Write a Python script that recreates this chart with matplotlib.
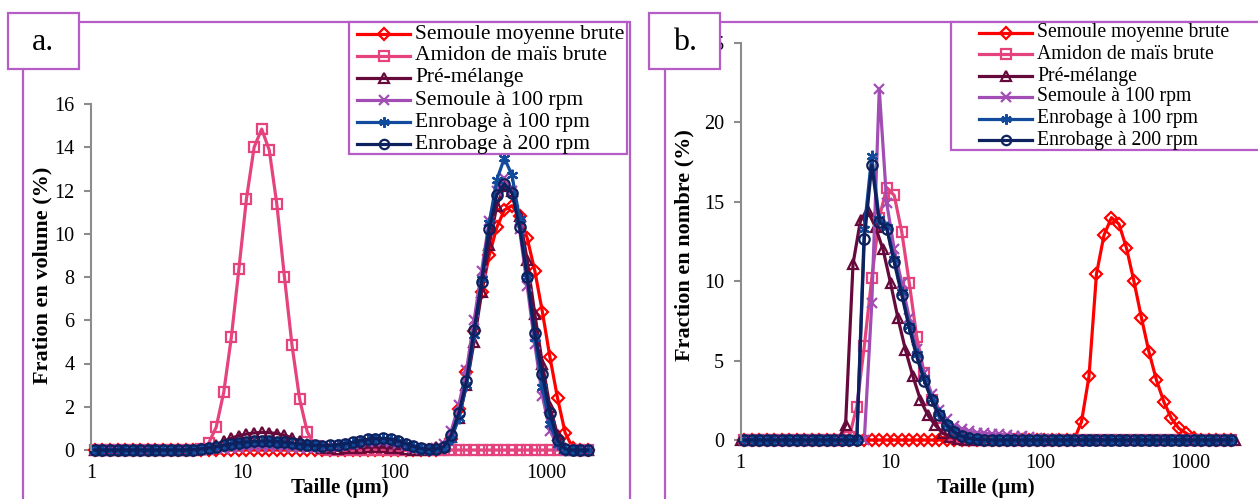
import matplotlib
matplotlib.use("Agg")
import matplotlib.pyplot as plt
from matplotlib.lines import Line2D
from matplotlib.patches import Rectangle

# ---------------- data ----------------
series_names = ["Semoule moyenne brute", "Amidon de maïs brute", "Pré-mélange",
                "Semoule à 100 rpm", "Enrobage à 100 rpm", "Enrobage à 200 rpm"]

# size classes (µm): class centres and class lower bounds
size_center = [1.059, 1.189, 1.334, 1.496, 1.679, 1.884, 2.113, 2.371, 2.661, 2.985,
               3.350, 3.758, 4.217, 4.732, 5.309, 5.957, 6.683, 7.499, 8.414, 9.441,
               10.59, 11.89, 13.34, 14.96, 16.79, 18.84, 21.13, 23.71, 26.61, 29.85,
               33.50, 37.58, 42.17, 47.32, 53.09, 59.57, 66.83, 74.99, 84.14, 94.41,
               105.9, 118.9, 133.4, 149.6, 167.9, 188.4, 211.3, 237.1, 266.1, 298.5,
               335.0, 375.8, 421.7, 473.2, 530.9, 595.7, 668.3, 749.9, 841.4, 944.1,
               1059, 1189, 1334, 1496, 1679, 1884]
size_lower = [1.000, 1.122, 1.259, 1.413, 1.585, 1.778, 1.995, 2.239, 2.512, 2.818,
              3.162, 3.548, 3.981, 4.467, 5.012, 5.623, 6.310, 7.079, 7.943, 8.913,
              10.00, 11.22, 12.59, 14.13, 15.85, 17.78, 19.95, 22.39, 25.12, 28.18,
              31.62, 35.48, 39.81, 44.67, 50.12, 56.23, 63.10, 70.79, 79.43, 89.13,
              100.0, 112.2, 125.9, 141.3, 158.5, 177.8, 199.5, 223.9, 251.2, 281.8,
              316.2, 354.8, 398.1, 446.7, 501.2, 562.3, 631.0, 707.9, 794.3, 891.3,
              1000, 1122, 1259, 1413, 1585, 1778, 1995]

# panel a : volume fraction (%) on size_center
vol_semoule_brute = [0, 0, 0, 0, 0, 0, 0, 0, 0, 0,
                     0, 0, 0, 0, 0, 0, 0, 0, 0, 0,
                     0, 0, 0, 0, 0, 0, 0, 0, 0, 0,
                     0, 0, 0, 0, 0, 0, 0, 0, 0, 0,
                     0, 0, 0, 0, 0, 0, 0.05, 0.5, 1.9, 3.6,
                     5.5, 7.3, 9.0, 10.3, 11.1, 11.3, 10.8, 9.8, 8.3, 6.4,
                     4.3, 2.4, 0.8, 0.1, 0, 0]
vol_amidon = [0, 0, 0, 0, 0, 0, 0, 0, 0, 0,
              0, 0, 0, 0, 0.05, 0.31, 1.05, 2.67, 5.21, 8.38,
              11.63, 14.0, 14.84, 13.87, 11.36, 8.0, 4.85, 2.36, 0.85, 0.2,
              0.03, 0, 0, 0, 0, 0, 0, 0, 0, 0,
              0, 0, 0, 0, 0, 0, 0, 0, 0, 0,
              0, 0, 0, 0, 0, 0, 0, 0, 0, 0,
              0, 0, 0, 0, 0, 0]
vol_premelange = [0, 0, 0, 0, 0, 0, 0, 0, 0, 0,
                  0, 0, 0, 0, 0.03, 0.1, 0.25, 0.4, 0.55, 0.66,
                  0.74, 0.79, 0.81, 0.8, 0.76, 0.68, 0.56, 0.42, 0.28, 0.17,
                  0.1, 0.07, 0.06, 0.07, 0.09, 0.11, 0.13, 0.14, 0.13, 0.1,
                  0.07, 0.04, 0.02, 0.02, 0.04, 0.12, 0.2, 0.6, 1.5, 3.0,
                  5.0, 7.3, 9.5, 11.3, 12.2, 12.0, 10.8, 8.8, 6.3, 4.0,
                  2.0, 0.7, 0.1, 0, 0, 0]
vol_semoule100 = [0, 0, 0, 0, 0, 0, 0, 0, 0, 0,
                  0, 0, 0, 0, 0.01, 0.02, 0.04, 0.06, 0.08, 0.1,
                  0.12, 0.13, 0.14, 0.14, 0.13, 0.12, 0.11, 0.1, 0.1, 0.11,
                  0.13, 0.16, 0.2, 0.25, 0.3, 0.35, 0.39, 0.41, 0.4, 0.36,
                  0.28, 0.18, 0.09, 0.04, 0.04, 0.1, 0.3, 0.9, 2.1, 3.7,
                  6.0, 8.3, 10.6, 12.0, 12.6, 12.0, 10.2, 7.6, 4.9, 2.5,
                  0.9, 0.2, 0, 0, 0, 0]
vol_enrob100 = [0, 0, 0, 0, 0, 0, 0, 0, 0, 0,
                0, 0, 0, 0.01, 0.03, 0.07, 0.12, 0.18, 0.23, 0.28,
                0.32, 0.35, 0.36, 0.36, 0.34, 0.31, 0.27, 0.24, 0.21, 0.19,
                0.19, 0.2, 0.23, 0.28, 0.34, 0.41, 0.47, 0.51, 0.52, 0.48,
                0.4, 0.28, 0.15, 0.06, 0.02, 0.03, 0.1, 0.5, 1.5, 3.0,
                5.3, 7.9, 10.5, 12.5, 13.5, 12.7, 10.7, 8.0, 5.2, 2.9,
                1.2, 0.3, 0, 0, 0, 0]
vol_enrob200 = [0, 0, 0, 0, 0, 0, 0, 0, 0, 0,
                0, 0, 0, 0.02, 0.05, 0.1, 0.16, 0.22, 0.28, 0.33,
                0.37, 0.4, 0.41, 0.41, 0.39, 0.36, 0.32, 0.28, 0.24, 0.21,
                0.2, 0.21, 0.24, 0.29, 0.36, 0.43, 0.49, 0.53, 0.54, 0.5,
                0.42, 0.3, 0.17, 0.07, 0.03, 0.05, 0.15, 0.7, 1.7, 3.2,
                5.55, 7.75, 10.2, 11.8, 12.3, 11.9, 10.3, 8.0, 5.4, 3.5,
                1.7, 0.46, 0.05, 0, 0, 0]

# panel b : number fraction (%)
num_semoule_brute = [0, 0, 0, 0, 0, 0, 0, 0, 0, 0,      # on size_center
                     0, 0, 0, 0, 0, 0, 0, 0, 0, 0,
                     0, 0, 0, 0, 0, 0, 0, 0, 0, 0,
                     0, 0, 0, 0, 0, 0, 0, 0, 0, 0,
                     0, 0, 0, 0, 0, 1.15, 4.0, 10.45, 12.9, 14.0,
                     13.6, 12.1, 10.0, 7.7, 5.56, 3.78, 2.4, 1.36, 0.73, 0.42,
                     0.15, 0.03, 0, 0, 0, 0]
num_amidon = [0, 0, 0, 0, 0, 0, 0, 0, 0, 0,             # on size_center
              0, 0, 0, 0, 0.2, 2.1, 5.9, 10.2, 14.0, 15.9,
              15.4, 13.1, 9.9, 6.5, 4.2, 2.5, 1.4, 0.7, 0.3, 0.1,
              0.03, 0, 0, 0, 0, 0, 0, 0, 0, 0,
              0, 0, 0, 0, 0, 0, 0, 0, 0, 0,
              0, 0, 0, 0, 0, 0, 0, 0, 0, 0,
              0, 0, 0, 0, 0, 0]
num_premelange = [0, 0, 0, 0, 0, 0, 0, 0, 0, 0,         # on size_lower
                  0, 0, 0, 0, 0.94, 11.1, 13.85, 14.4, 13.4, 12.0,
                  9.9, 7.66, 5.67, 4.0, 2.52, 1.55, 0.92, 0.42, 0.2, 0.08,
                  0.03, 0, 0, 0, 0, 0, 0, 0, 0, 0,
                  0, 0, 0, 0, 0, 0, 0, 0, 0, 0,
                  0, 0, 0, 0, 0, 0, 0, 0, 0, 0,
                  0, 0, 0, 0, 0, 0, 0]
num_semoule100 = [0, 0, 0, 0, 0, 0, 0, 0, 0, 0,         # on size_center
                  0, 0, 0, 0, 0, 0, 0, 8.6, 22.1, 14.9,
                  12.0, 9.9, 7.7, 5.7, 4.2, 2.9, 1.9, 1.3, 0.9, 0.7,
                  0.55, 0.47, 0.42, 0.38, 0.35, 0.32, 0.28, 0.23, 0.18, 0.13,
                  0.08, 0.05, 0.02, 0, 0, 0, 0, 0, 0, 0,
                  0, 0, 0, 0, 0, 0, 0, 0, 0, 0,
                  0, 0, 0, 0, 0, 0]
num_enrob100 = [0, 0, 0, 0, 0, 0, 0, 0, 0, 0,           # on size_center
                0, 0, 0, 0, 0, 0, 13.3, 17.9, 13.9, 13.4,
                11.4, 9.3, 7.2, 5.4, 3.9, 2.6, 1.7, 1.0, 0.55, 0.28,
                0.12, 0.05, 0.02, 0, 0, 0, 0, 0, 0, 0,
                0, 0, 0, 0, 0, 0, 0, 0, 0, 0,
                0, 0, 0, 0, 0, 0, 0, 0, 0, 0,
                0, 0, 0, 0, 0, 0]
num_enrob200 = [0, 0, 0, 0, 0, 0, 0, 0, 0, 0,           # on size_center
                0, 0, 0, 0, 0, 0, 12.64, 17.3, 13.75, 13.3,
                11.2, 9.13, 7.07, 5.25, 3.74, 2.5, 1.57, 0.94, 0.5, 0.24,
                0.1, 0.04, 0.02, 0, 0, 0, 0, 0, 0, 0,
                0, 0, 0, 0, 0, 0, 0, 0, 0, 0,
                0, 0, 0, 0, 0, 0, 0, 0, 0, 0,
                0, 0, 0, 0, 0, 0]

x_ticks = [1, 10, 100, 1000]
x_tick_labels = ["1", "10", "100", "1000"]
ya_ticks = [0, 2, 4, 6, 8, 10, 12, 14, 16]
yb_ticks = [0, 5, 10, 15, 20, 25]

# ---------------- style ----------------
W, H = 1258, 499
SERIF = ["Liberation Serif", "DejaVu Serif"]
plt.rcParams["font.family"] = SERIF
FRAME = "#B55CC6"
GRAY = "#8C8C8C"
styles = [
    dict(color="#FF0000", marker="D", ms=6.3),
    dict(color="#E5437E", marker="s", ms=7.3),
    dict(color="#660A3C", marker="^", ms=7.5),
    dict(color="#A24DB3", marker="x", ms=7.3),
    dict(color="#124A9C", marker=(6, 2, 0), ms=8.3),
    dict(color="#0C215E", marker="o", ms=7.5),
]
LW = 2.3
MEW = 1.6


def fx(x):
    return x / W


def fy(y):
    return 1 - y / H


fig = plt.figure(figsize=(W / 100, H / 100), dpi=100)
fig.patch.set_facecolor("white")

axA = fig.add_axes([fx(91), fy(450), (591.8 - 91) / W, (450 - 104) / H])
axB = fig.add_axes([fx(740.7), fy(440), (1235.2 - 740.7) / W, (440 - 43) / H])

panelA = [(size_center, vol_semoule_brute), (size_center, vol_amidon),
          (size_center, vol_premelange), (size_center, vol_semoule100),
          (size_center, vol_enrob100), (size_center, vol_enrob200)]
panelB = [(size_center, num_semoule_brute), (size_center, num_amidon),
          (size_lower, num_premelange), (size_center, num_semoule100),
          (size_center, num_enrob100), (size_center, num_enrob200)]


def draw(ax, data, ylim, yticks):
    for (xs, ys), st, name in zip(data, styles, series_names):
        ax.plot(xs, ys, color=st["color"], lw=LW, marker=st["marker"],
                ms=st["ms"], mfc="none", mec=st["color"], mew=MEW,
                clip_on=False, label=name)
    ax.set_xscale("log")
    ax.set_xlim(1, 2000)
    ax.set_ylim(*ylim)
    ax.set_xticks(x_ticks)
    ax.set_xticklabels(x_tick_labels)
    ax.xaxis.set_minor_locator(matplotlib.ticker.NullLocator())
    ax.set_yticks(yticks)
    ax.set_yticklabels([str(t) for t in yticks])
    for s in ("top", "right"):
        ax.spines[s].set_visible(False)
    ax.spines["left"].set_color(GRAY)
    ax.spines["left"].set_linewidth(1.5)
    ax.spines["bottom"].set_color(GRAY)
    ax.spines["bottom"].set_linewidth(1.0)
    ax.spines["bottom"].set_zorder(0)
    ax.tick_params(axis="y", direction="out", length=5, width=1.5, color=GRAY,
                   labelsize=14.5, pad=7)
    ax.tick_params(axis="x", length=0, labelsize=14.5, pad=10)
    ax.patch.set_alpha(0)


draw(axA, panelA, (0, 16), ya_ticks)
draw(axB, panelB, (0, 25), yb_ticks)

# axis titles
fig.text(fx(42), fy(275), "Fration en volume (%)", rotation=90, ha="center",
         va="center", fontsize=16, fontweight="bold")
fig.text(fx(684), fy(245), "Fraction en nombre (%)", rotation=90, ha="center",
         va="center", fontsize=16, fontweight="bold")
fig.text(fx(340), fy(488), "Taille (µm)", ha="center", va="center",
         fontsize=15, fontweight="bold")
fig.text(fx(986), fy(488), "Taille (µm)", ha="center", va="center",
         fontsize=15, fontweight="bold")


def rect(x0, y0, x1, y1, fill):
    r = Rectangle((fx(x0), fy(y1)), (x1 - x0) / W, (y1 - y0) / H,
                  transform=fig.transFigure, facecolor="white" if fill else "none",
                  edgecolor=FRAME, lw=1.6, fill=fill, zorder=5)
    fig.patches.append(r)


# panel frames
rect(23, 22, 630, 520, False)
rect(665, 22, 1280, 520, False)


def legend(x0, y0, x1, y1, hx0, hx1, tx, rows, fs):
    rect(x0, y0, x1, y1, True)
    for name, st, ry in zip(series_names, styles, rows):
        hm = (hx0 + hx1) / 2
        ln = Line2D([fx(hx0), fx(hm), fx(hx1)], [fy(ry)] * 3,
                    transform=fig.transFigure, color=st["color"], lw=LW,
                    marker=st["marker"], ms=st["ms"] * 0.9, mfc="none",
                    mec=st["color"], mew=MEW, markevery=[1], zorder=6)
        fig.lines.append(ln)
        fig.text(fx(tx), fy(ry), name, ha="left", va="center", fontsize=fs,
                 zorder=6)


legend(349, 22, 627, 154, 357, 410, 415,
       [34, 56, 78, 100, 122, 144], 15.5)
legend(951, 22, 1280, 150, 979, 1032, 1037,
       [33, 54.5, 76, 97, 118.5, 140], 14.2)

# panel letters
rect(8, 13, 79, 69, True)
rect(649, 13, 720, 69, True)
fig.text(fx(43), fy(43), "a.", ha="center", va="center", fontsize=23, zorder=7)
fig.text(fx(685), fy(43), "b.", ha="center", va="center", fontsize=23, zorder=7)

fig.savefig("out.png", dpi=100)
